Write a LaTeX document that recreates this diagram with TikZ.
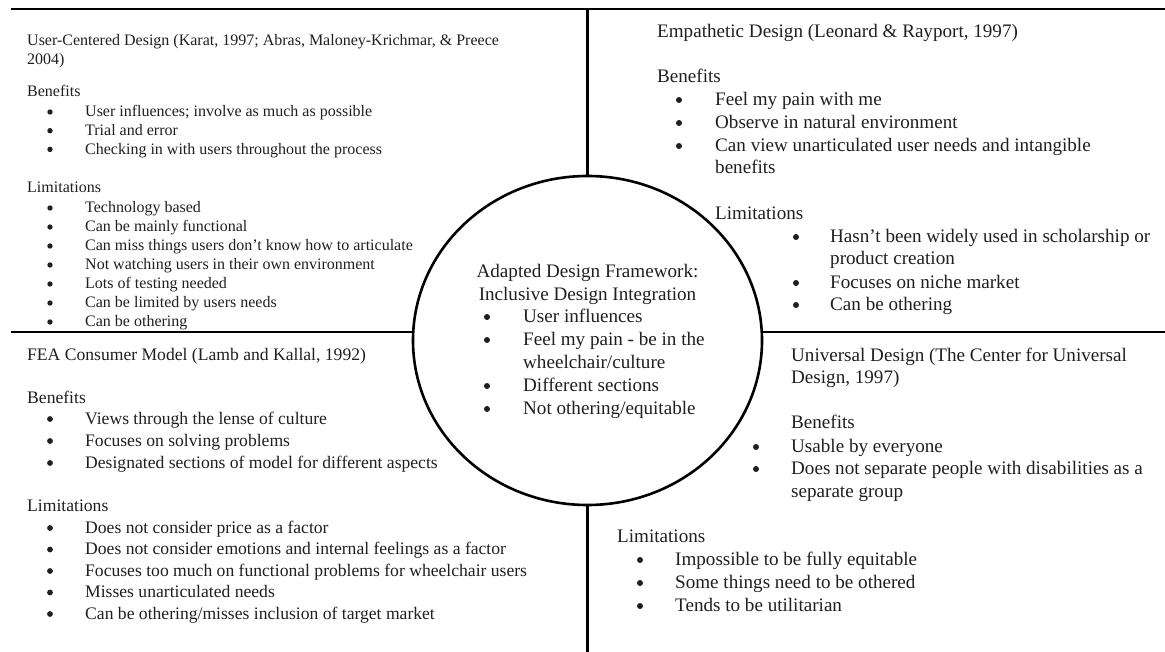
\documentclass[tikz,border=0pt]{standalone}
\usepackage{fontspec}
\setmainfont{Liberation Serif}
\usetikzlibrary{shapes.geometric}

\tikzset{
  frame/.style={line width=2.6pt, line cap=butt},
  base/.style={anchor=base west, inner sep=0pt, text=black!88},
  smalltxt/.style={base, font=\fontsize{16}{18}\selectfont, yshift=-5pt},
  midtxt/.style={base, font=\fontsize{17.6}{21}\selectfont, yshift=-5.3pt},
  bigtxt/.style={base, font=\fontsize{19.1}{23}\selectfont, yshift=-5.8pt},
  centertxt/.style={bigtxt, anchor=base},
  hub/.style={ellipse, draw, line width=2.6pt, minimum width=349pt, minimum height=329pt, inner sep=0pt}
}

% bullet item: style, name, bullet x, text x, centre y, text, bullet radius
\newcommand{\listentry}[7]{%
  \fill[black!88] (#3,#5) circle (#7);
  \node[#1] (#2) at (#4,#5) {#6};}

\begin{document}
\begin{tikzpicture}[x=1pt, y=-1pt]
\useasboundingbox (0,0) rectangle (1165,652);

% ---- frame: central ellipse and the four dividing lines ----
\node[hub] (core) at (587.5,340.5) {};
\coordinate (topL) at (11,9);
\coordinate (topR) at (1165,9);
\coordinate (topM) at (587.5,9);
\coordinate (midL) at (11,332);
\coordinate (midR) at (1165,332);
\coordinate (botM) at (587.5,652);
\draw[frame] (topL) -- (topR);
\draw[frame] (topM) -- (core.north);
\draw[frame] (midL) -- (midL -| core.west);
\draw[frame] (midR) -- (midR -| core.east);
\draw[frame] (core.south) -- (botM);

% ---- User-Centered Design ----
\node[smalltxt] (ucdA) at (27,41) {User-Centered Design (Karat, 1997; Abras, Maloney-Krichmar, \& Preece};
\node[smalltxt] (ucdB) at (27,60) {2004)};
\node[smalltxt] (ucdBen) at (27,92) {Benefits};
\listentry{smalltxt}{ucdB1}{50}{85}{112}{User influences; involve as much as possible}{2.7pt}
\listentry{smalltxt}{ucdB2}{50}{85}{130.7}{Trial and error}{2.7pt}
\listentry{smalltxt}{ucdB3}{50}{85}{149.4}{Checking in with users throughout the process}{2.7pt}
\node[smalltxt] (ucdLim) at (27,188) {Limitations};
\listentry{smalltxt}{ucdL1}{50}{85}{208}{Technology based}{2.7pt}
\listentry{smalltxt}{ucdL2}{50}{85}{227}{Can be mainly functional}{2.7pt}
\listentry{smalltxt}{ucdL3}{50}{85}{246}{Can miss things users don’t know how to articulate}{2.7pt}
\listentry{smalltxt}{ucdL4}{50}{85}{265}{Not watching users in their own environment}{2.7pt}
\listentry{smalltxt}{ucdL5}{50}{85}{284}{Lots of testing needed}{2.7pt}
\listentry{smalltxt}{ucdL6}{50}{85}{303}{Can be limited by users needs}{2.7pt}
\listentry{smalltxt}{ucdL7}{50}{85}{322}{Can be othering}{2.7pt}

% ---- Empathetic Design ----
\node[bigtxt] (empT) at (657,32) {Empathetic Design (Leonard \& Rayport, 1997)};
\node[bigtxt] (empBen) at (657,77) {Benefits};
\listentry{bigtxt}{empB1}{679}{715}{100}{Feel my pain with me}{3pt}
\listentry{bigtxt}{empB2}{679}{715}{123}{Observe in natural environment}{3pt}
\listentry{bigtxt}{empB3}{679}{715}{146}{Can view unarticulated user needs and intangible}{3pt}
\node[bigtxt] (empB3b) at (715,168) {benefits};
\node[bigtxt] (empLim) at (715,214) {Limitations};
\listentry{bigtxt}{empL1}{796}{830}{237}{Hasn’t been widely used in scholarship or}{3pt}
\node[bigtxt] (empL1b) at (830,259) {product creation};
\listentry{bigtxt}{empL2}{796}{830}{283}{Focuses on niche market}{3pt}
\listentry{bigtxt}{empL3}{796}{830}{305}{Can be othering}{3pt}

% ---- Adapted Design Framework (centre) ----
\node[centertxt] (adfA) at (587.5,272) {Adapted Design Framework:};
\node[centertxt] (adfB) at (587.5,295) {Inclusive Design Integration};
\listentry{bigtxt}{adf1}{487}{523}{317}{User influences}{3pt}
\listentry{bigtxt}{adf2}{487}{523}{340}{Feel my pain - be in the}{3pt}
\node[bigtxt] (adf2b) at (523,363) {wheelchair/culture};
\listentry{bigtxt}{adf3}{487}{523}{386}{Different sections}{3pt}
\listentry{bigtxt}{adf4}{487}{523}{409}{Not othering/equitable}{3pt}

% ---- FEA Consumer Model ----
\node[midtxt] (feaT) at (27,355) {FEA Consumer Model (Lamb and Kallal, 1992)};
\node[midtxt] (feaBen) at (27,398) {Benefits};
\listentry{midtxt}{feaB1}{50}{85}{419}{Views through the lense of culture}{2.9pt}
\listentry{midtxt}{feaB2}{50}{85}{441}{Focuses on solving problems}{2.9pt}
\listentry{midtxt}{feaB3}{50}{85}{463}{Designated sections of model for different aspects}{2.9pt}
\node[midtxt] (feaLim) at (27,506) {Limitations};
\listentry{midtxt}{feaL1}{50}{85}{528}{Does not consider price as a factor}{2.9pt}
\listentry{midtxt}{feaL2}{50}{85}{549.5}{Does not consider emotions and internal feelings as a factor}{2.9pt}
\listentry{midtxt}{feaL3}{50}{85}{571}{Focuses too much on functional problems for wheelchair users}{2.9pt}
\listentry{midtxt}{feaL4}{50}{85}{592.5}{Misses unarticulated needs}{2.9pt}
\listentry{midtxt}{feaL5}{50}{85}{614}{Can be othering/misses inclusion of target market}{2.9pt}

% ---- Universal Design ----
\node[bigtxt] (udA) at (791,356) {Universal Design (The Center for Universal};
\node[bigtxt] (udB) at (791,378) {Design, 1997)};
\node[bigtxt] (udBen) at (791,423) {Benefits};
\listentry{bigtxt}{udB1}{756}{791}{447}{Usable by everyone}{3pt}
\listentry{bigtxt}{udB2}{756}{791}{469}{Does not separate people with disabilities as a}{3pt}
\node[bigtxt] (udB2b) at (791,492) {separate group};
\node[bigtxt] (udLim) at (617,537) {Limitations};
\listentry{bigtxt}{udL1}{640}{675}{560}{Impossible to be fully equitable}{3pt}
\listentry{bigtxt}{udL2}{640}{675}{583}{Some things need to be othered}{3pt}
\listentry{bigtxt}{udL3}{640}{675}{606}{Tends to be utilitarian}{3pt}
\end{tikzpicture}
\end{document}
